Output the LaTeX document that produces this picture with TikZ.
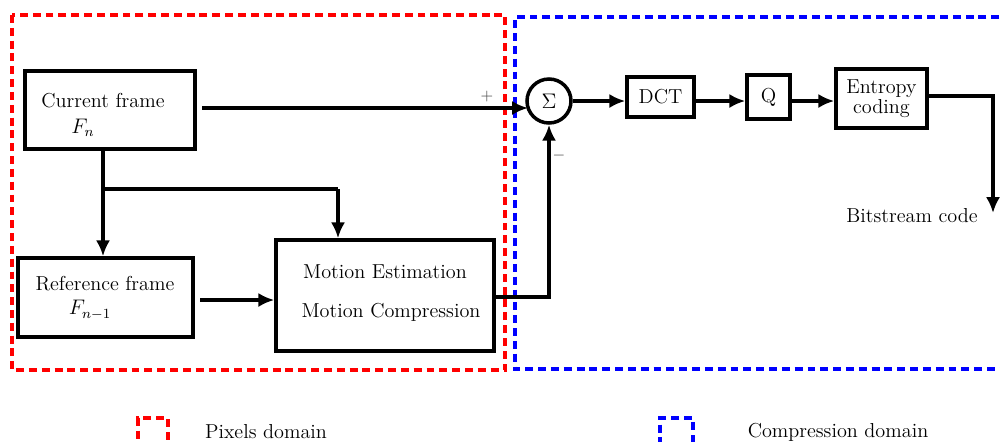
\documentclass[tikz,border=0pt]{standalone}
\usetikzlibrary{arrows.meta}
\begin{document}
\begin{tikzpicture}[x=0.02cm,y=-0.02cm,
  font=\fontsize{11.5}{13.5}\selectfont,
  blk/.style={draw,line width=2pt,inner sep=0pt,fill=none},
  conn/.style={line width=2pt,-{Latex[length=9pt,width=8pt]}},
  plain/.style={line width=2pt},
  reddash/.style={draw=red,line width=2pt,dash pattern=on 4.5pt off 2.8pt},
  bluedash/.style={draw=blue,line width=2pt,dash pattern=on 4.5pt off 2.8pt},
  lbl/.style={inner sep=0pt,text=black}]
\useasboundingbox (0,0) rectangle (1000,441);
% domain boxes
\draw[reddash] (12,15) rectangle (505,370);
\draw[bluedash] (1012,17) -- (515,17) -- (515,369) -- (1012,369);
% blocks
\node[blk,minimum width=3.4cm,minimum height=1.56cm] (cur) at (110,110) {};
\node[lbl] (curt) at (103,101) {Current frame};
\node[lbl] (curf) at (83,128) {$F_n$};
\node[blk,minimum width=3.5cm,minimum height=1.58cm] (ref) at (105.5,297.5) {};
\node[lbl] (reft) at (105,284) {Reference frame};
\node[lbl] (reff) at (90,310) {$F_{n-1}$};
\node[blk,minimum width=4.36cm,minimum height=2.22cm] (mot) at (385,295.5) {};
\node[lbl] (mott1) at (385,272) {Motion Estimation};
\node[lbl] (mott2) at (391,312) {Motion Compression};
\node[blk,circle,minimum size=0.88cm,font=\fontsize{13}{15}\selectfont] (sig) at (549,101) {$\Sigma$};
\node[blk,minimum width=1.34cm,minimum height=0.8cm] (dct) at (660.5,97) {DCT};
\node[blk,minimum width=0.86cm,minimum height=0.88cm] (q) at (768.5,97) {Q};
\node[blk,minimum width=1.82cm,minimum height=1.18cm,align=center] (ent) at (881.5,98.5) {Entropy\\[-2pt]coding};
\node[lbl] (bst) at (912,216) {Bitstream code};
\node[lbl,font=\small,text=black!70] (plus) at (487,97) {$+$};
\node[lbl,font=\small,text=black!70] (minus) at (559,156) {$-$};
% coordinates
\coordinate (br) at (103,189);
\coordinate (mtop) at (338,189);
\coordinate (bs) at (993,213);
% connectors
\draw[conn,shorten <=3pt] (cur.east |- 0,108) -- (528,108);
\draw[conn] (br |- cur.south) -- (br |- ref.north);
\draw[plain] (br) -- (mtop);
\draw[conn] (mtop) -- (mtop |- mot.north);
\draw[conn,shorten <=3pt] (ref.east |- 0,300) -- (mot.west |- 0,300);
\draw[conn] (mot.east |- 0,297) -| (sig.south);
\draw[conn] (sig.east) -- (dct.west |- sig.east);
\draw[conn] (dct.east |- 0,101) -- (q.west |- 0,101);
\draw[conn] (q.east |- 0,101) -- (ent.west |- 0,101);
\draw[conn] (ent.east |- 0,96) -| (bs);
% legend
\node[reddash,minimum width=0.6cm,minimum height=0.6cm,inner sep=0pt] (legr) at (153,433) {};
\node[lbl] (legrt) at (266,432) {Pixels domain};
\node[bluedash,minimum width=0.66cm,minimum height=0.6cm,inner sep=0pt] (legb) at (676.5,433) {};
\node[lbl] (legbt) at (838,432) {Compression domain};
\end{tikzpicture}
\end{document}
